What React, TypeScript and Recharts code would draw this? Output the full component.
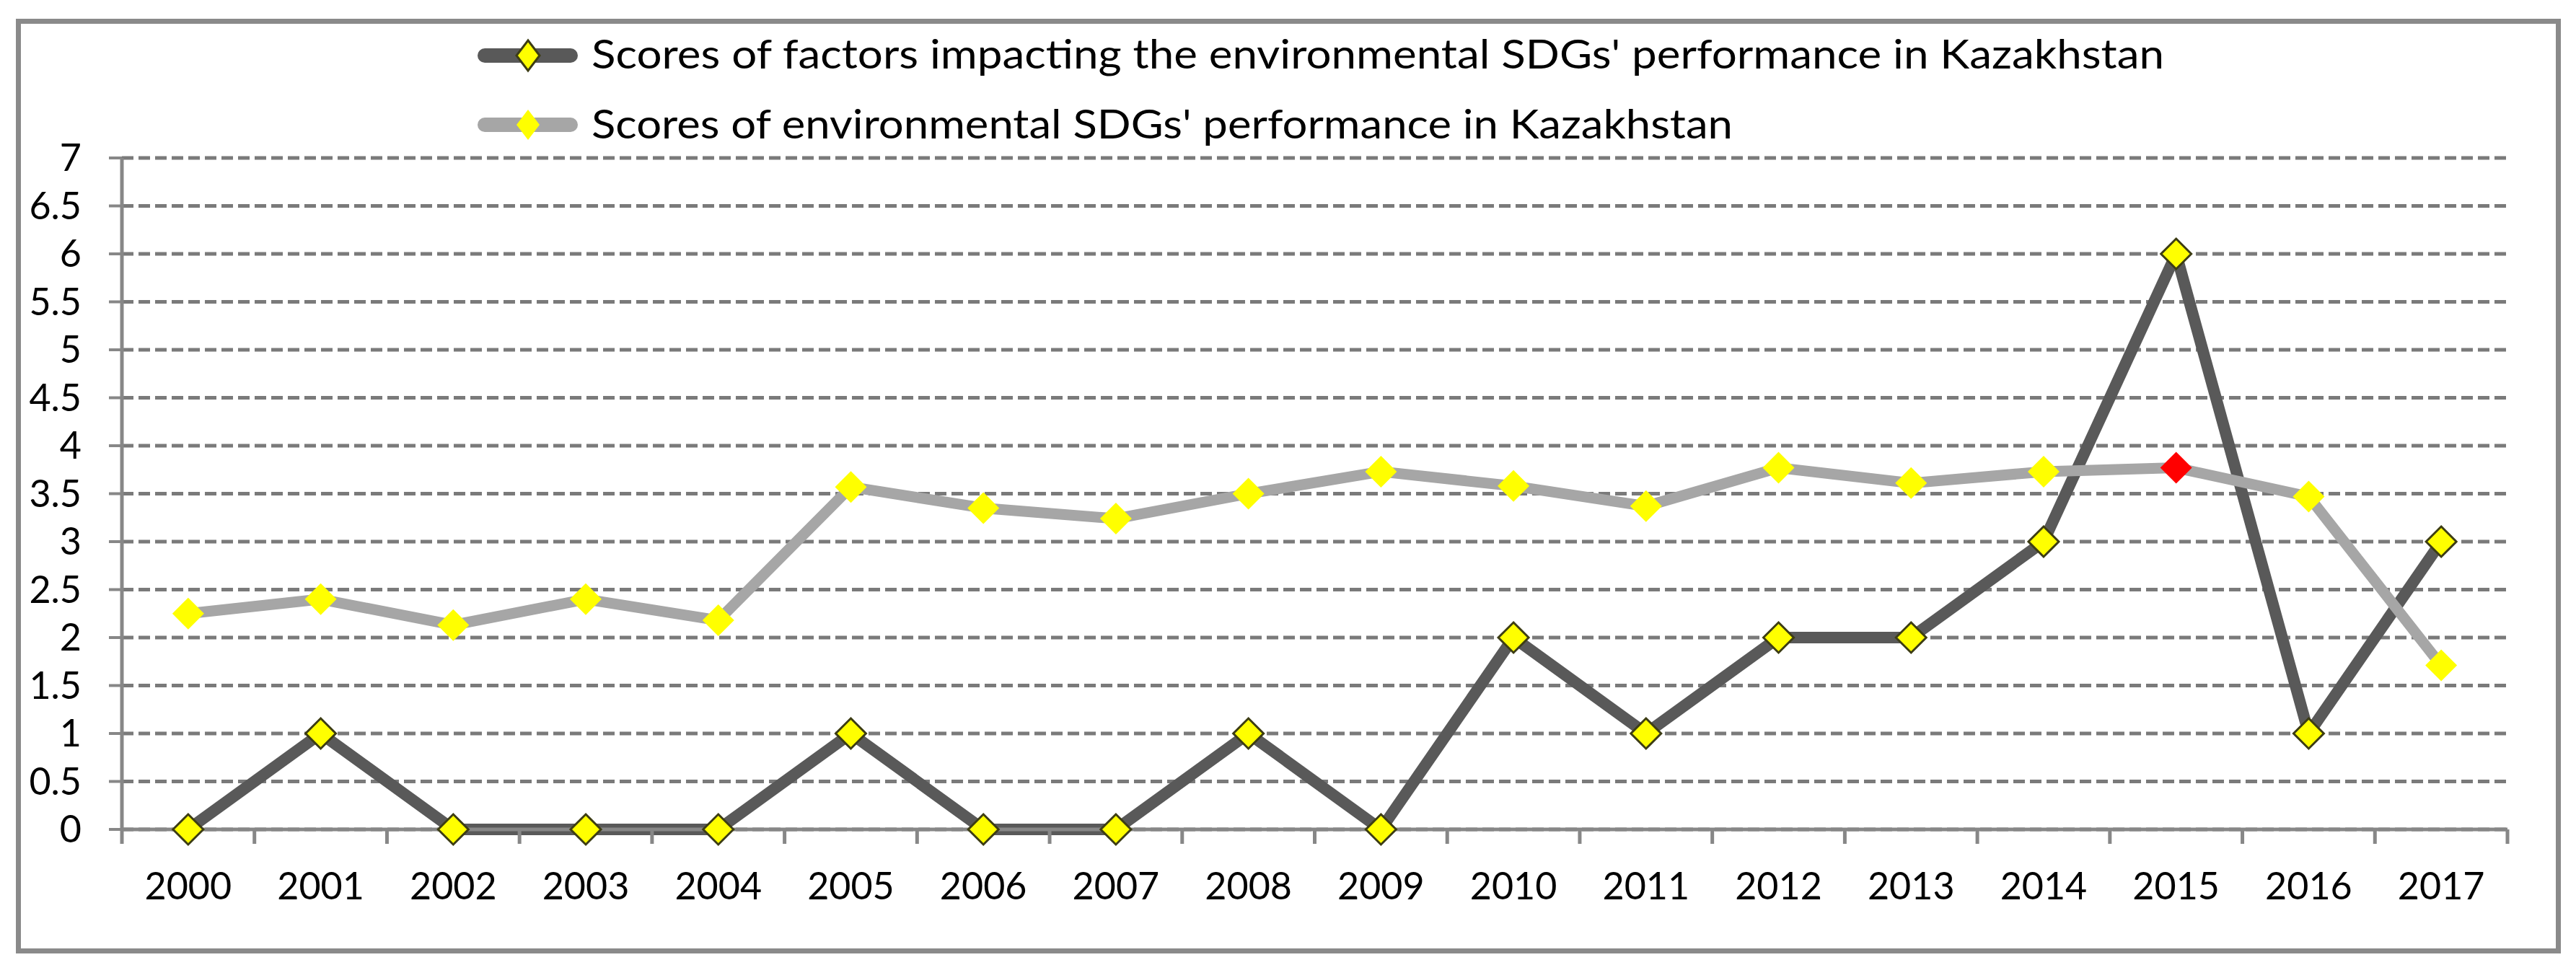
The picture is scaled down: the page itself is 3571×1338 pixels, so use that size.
import React from 'react';
import { LineChart, Line, XAxis, YAxis, CartesianGrid, Legend } from 'recharts';

// values
const years = ['2000', '2001', '2002', '2003', '2004', '2005', '2006', '2007', '2008', '2009', '2010', '2011', '2012', '2013', '2014', '2015', '2016', '2017'];
const factorScores = [0, 1, 0, 0, 0, 1, 0, 0, 1, 0, 2, 1, 2, 2, 3, 6, 1, 3];
const sdgScores = [2.25, 2.4, 2.13, 2.4, 2.18, 3.57, 3.35, 3.24, 3.5, 3.73, 3.58, 3.37, 3.77, 3.61, 3.73, 3.77, 3.47, 1.71];
const yTicks = [0, 0.5, 1, 1.5, 2, 2.5, 3, 3.5, 4, 4.5, 5, 5.5, 6, 6.5, 7];
const factorName = "Scores of factors impacting the environmental SDGs' performance in Kazakhstan";
const sdgName = "Scores of environmental SDGs' performance in Kazakhstan";
const highlightYear = '2015';

const data = years.map((year, i) => ({ year, factors: factorScores[i], sdg: sdgScores[i] }));

const W = 3571;
const H = 1338;
const PLOT_LEFT = 169;
const PLOT_RIGHT = 3476;
const PLOT_TOP = 219;
const PLOT_BOTTOM = 1150;
const BAND = (PLOT_RIGHT - PLOT_LEFT) / years.length;
const TICK_SIZE = 20;
const TICK_MARGIN = 40;
const AXIS_COLOR = '#878787';
const DARK = '#595959';
const LIGHT = '#a6a6a6';
const FONT = 'Lato, "Open Sans", sans-serif';

function diamondPath(cx: number, cy: number, w: number, h: number) {
  return `M${cx},${cy - h / 2} L${cx + w / 2},${cy} L${cx},${cy + h / 2} L${cx - w / 2},${cy} Z`;
}

const FactorDot = (props: any) => {
  const { cx, cy, index } = props;
  if (cx == null || cy == null) return null;
  return <path key={`f-${index}`} d={diamondPath(cx, cy, 42, 42)} fill="#ffff00" stroke="#3d3d14" strokeWidth={3} />;
};

const SdgDot = (props: any) => {
  const { cx, cy, index, payload } = props;
  if (cx == null || cy == null) return null;
  const fill = payload && payload.year === highlightYear ? '#ff0000' : '#ffff00';
  return <path key={`s-${index}`} d={diamondPath(cx, cy, 44, 44)} fill={fill} stroke="none" />;
};

const XTick = (props: any) => {
  const { x, y, payload, index } = props;
  const axisY = y - TICK_SIZE - TICK_MARGIN;
  const last = index === years.length - 1;
  return (
    <g>
      <line x1={x - BAND / 2} y1={axisY} x2={x - BAND / 2} y2={axisY + TICK_SIZE} stroke={AXIS_COLOR} strokeWidth={5} />
      {last && (
        <line x1={x + BAND / 2} y1={axisY} x2={x + BAND / 2} y2={axisY + TICK_SIZE} stroke={AXIS_COLOR} strokeWidth={5} />
      )}
      <text x={x} y={y} dy="0.71em" textAnchor="middle" fill="#000" fontSize={52} fontFamily={FONT}>
        {payload.value}
      </text>
    </g>
  );
};

// legend rows, in the order of the reference
const legendRows: Record<string, { y: number; base: number; len: number }> = {
  factors: { y: 77, base: 95, len: 2180 },
  sdg: { y: 173, base: 192, len: 1582 },
};

const renderLegend = (props: any) => {
  const payload = props.payload || [];
  return (
    <svg width={W} height={210} style={{ display: 'block' }}>
      {payload.map((entry: any) => {
        const r = legendRows[entry.dataKey];
        if (!r) return null;
        const dark = entry.dataKey === 'factors';
        return (
          <g key={entry.dataKey}>
            <line x1={672} y1={r.y} x2={791} y2={r.y} stroke={entry.color} strokeWidth={20} strokeLinecap="round" />
            <path d={diamondPath(732, r.y, 32, 42)} fill="#ffff00" stroke={dark ? '#3d3d14' : 'none'} strokeWidth={3} />
            <text x={820} y={r.base} fontSize={56} fontFamily={FONT} fill="#000" textLength={r.len} lengthAdjust="spacingAndGlyphs">
              {entry.value}
            </text>
          </g>
        );
      })}
    </svg>
  );
};

export default function App() {
  return (
    <div style={{ position: 'absolute', left: 0, top: 0, width: W, height: H, background: '#fff', fontFamily: FONT }}>
      <div
        style={{
          position: 'absolute',
          left: 22,
          top: 26,
          width: 3528,
          height: 1296,
          boxSizing: 'border-box',
          border: '7px solid #8a8a8a',
        }}
      />
      <div style={{ position: 'absolute', left: 0, top: 0 }}>
        <LineChart
          width={W}
          height={H}
          data={data}
          margin={{ top: PLOT_TOP, right: W - PLOT_RIGHT, bottom: H - PLOT_BOTTOM - 60, left: 0 }}
        >
          <CartesianGrid vertical={false} stroke="#7a7a7a" strokeWidth={5} strokeDasharray="16 7" />
          <XAxis
            dataKey="year"
            height={60}
            padding={{ left: BAND / 2, right: BAND / 2 }}
            axisLine={{ stroke: AXIS_COLOR, strokeWidth: 5 }}
            tickLine={false}
            tickSize={TICK_SIZE}
            tickMargin={TICK_MARGIN}
            interval={0}
            tick={<XTick />}
          />
          <YAxis
            width={PLOT_LEFT}
            domain={[0, 7]}
            ticks={yTicks}
            interval={0}
            axisLine={{ stroke: AXIS_COLOR, strokeWidth: 5 }}
            tickLine={{ stroke: AXIS_COLOR, strokeWidth: 4 }}
            tickSize={18}
            tickMargin={38}
            tick={{ fill: '#000', fontSize: 52, fontFamily: FONT }}
          />
          <Legend
            layout="vertical"
            align="center"
            verticalAlign="middle"
            wrapperStyle={{ position: 'absolute', left: 0, top: 0, width: W, height: 210 }}
            content={renderLegend}
          />
          <Line
            type="linear"
            dataKey="factors"
            name={factorName}
            stroke={DARK}
            strokeWidth={16}
            strokeLinejoin="round"
            dot={FactorDot}
            activeDot={false}
            isAnimationActive={false}
          />
          <Line
            type="linear"
            dataKey="sdg"
            name={sdgName}
            stroke={LIGHT}
            strokeWidth={15}
            strokeLinejoin="round"
            dot={SdgDot}
            activeDot={false}
            isAnimationActive={false}
          />
        </LineChart>
      </div>
    </div>
  );
}
